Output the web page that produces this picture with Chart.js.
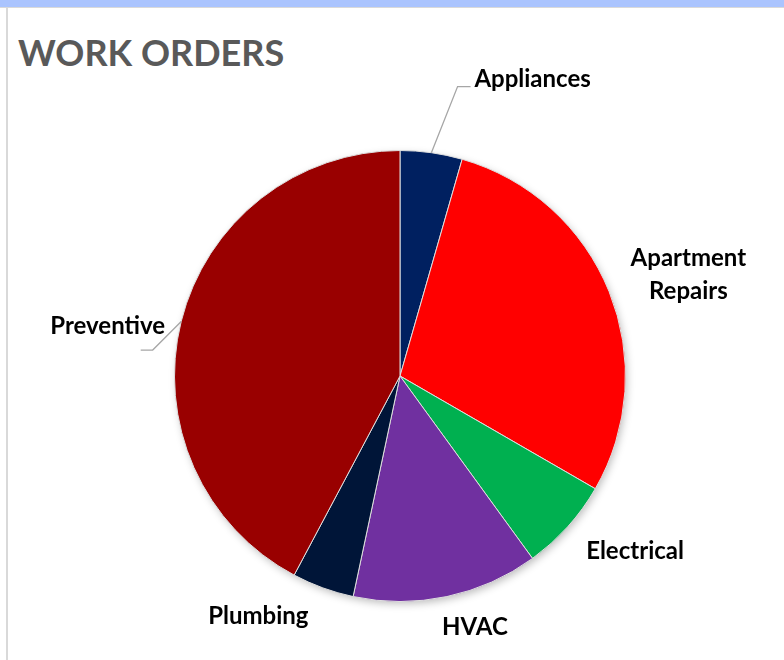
<!DOCTYPE html>
<html>
<head>
<meta charset="utf-8">
<script src="https://cdn.jsdelivr.net/npm/chart.js@4.4.0/dist/chart.umd.min.js"></script>
<style>
  html, body { margin: 0; padding: 0; background: #fff; }
  body { width: 784px; height: 660px; position: relative; overflow: hidden; }
  #band { position: absolute; left: 0; top: 0; width: 784px; height: 7px; background: #aac4fe; border-bottom: 1px solid #d9d9d9; }
  #edge { position: absolute; left: 6px; top: 8px; width: 2px; height: 652px; background: #d9d9d9; }
  #title { position: absolute; left: 18px; top: 30px; font: bold 36px Lato, sans-serif; color: #595959; }
  canvas { position: absolute; left: 0; top: 0; }
</style>
</head>
<body>
<div id="band"></div>
<div id="edge"></div>
<div id="title">WORK ORDERS</div>
<canvas id="workChart" width="784" height="660"></canvas>
<script>
const categories = ['Appliances', 'Apartment Repairs', 'Electrical', 'HVAC', 'Plumbing', 'Preventive'];
const orderCounts = [2, 13, 3, 6, 2, 19];
const sliceColors = ['#002060', '#ff0000', '#00b050', '#7030a0', '#001538', '#990000'];

// label placement: angle (deg, clockwise from top) and distance in radii, plus optional leader
const labelSpots = [
    { angle: 24.1, dist: 1.44, lines: ['Appliances'], leader: [[-75, 7], [-62, 7]] },
    { angle: 70.7, dist: 1.355, lines: ['Apartment', 'Repairs'] },
    { angle: 126.7, dist: 1.30, lines: ['Electrical'] },
    { angle: 163.4, dist: 1.163, lines: ['HVAC'] },
    { angle: 210.5, dist: 1.238, lines: ['Plumbing'] },
    { angle: 279.7, dist: 1.315, lines: ['Preventive'], leader: [[45, 24], [33, 24]] }
];

const pieShadow = {
    id: 'pieShadow',
    beforeDatasetsDraw(chart) {
        const arc = chart.getDatasetMeta(0).data[0];
        if (!arc) return;
        const ctx = chart.ctx;
        ctx.save();
        ctx.shadowColor = 'rgba(0,0,0,0.28)';
        ctx.shadowBlur = 9;
        ctx.shadowOffsetX = 2;
        ctx.shadowOffsetY = 3;
        ctx.fillStyle = '#ffffff';
        ctx.beginPath();
        ctx.arc(arc.x, arc.y, arc.outerRadius - 1, 0, Math.PI * 2);
        ctx.fill();
        ctx.restore();
    }
};

const sliceLabels = {
    id: 'sliceLabels',
    afterDatasetsDraw(chart) {
        const meta = chart.getDatasetMeta(0);
        const ctx = chart.ctx;
        const first = meta.data[0];
        const cx = first.x, cy = first.y, r = first.outerRadius;
        ctx.save();
        ctx.font = 'bold 24px Lato, sans-serif';
        ctx.fillStyle = '#000000';
        ctx.textAlign = 'center';
        ctx.textBaseline = 'middle';
        labelSpots.forEach((spot, i) => {
            const a = spot.angle * Math.PI / 180;
            const lx = cx + Math.sin(a) * r * spot.dist;
            const ly = cy - Math.cos(a) * r * spot.dist;
            const lh = 33;
            spot.lines.forEach((t, j) => {
                ctx.fillText(t, lx, ly + (j - (spot.lines.length - 1) / 2) * lh);
            });
            if (spot.leader) {
                const el = meta.data[i];
                const mid = (el.startAngle + el.endAngle) / 2;
                ctx.strokeStyle = '#a6a6a6';
                ctx.lineWidth = 1.3;
                ctx.beginPath();
                ctx.moveTo(cx + Math.cos(mid) * r, cy + Math.sin(mid) * r);
                spot.leader.forEach(p => ctx.lineTo(lx + p[0], ly + p[1]));
                ctx.stroke();
            }
        });
        ctx.restore();
    }
};

new Chart(document.getElementById('workChart'), {
    type: 'pie',
    data: {
        labels: categories,
        datasets: [{
            data: orderCounts,
            backgroundColor: sliceColors,
            borderColor: '#dedede',
            borderWidth: 1
        }]
    },
    options: {
        responsive: false,
        animation: false,
        layout: { padding: { left: 174, right: 158, top: 150, bottom: 58 } },
        plugins: {
            legend: { display: false },
            tooltip: { enabled: false }
        }
    },
    plugins: [pieShadow, sliceLabels]
});
</script>
</body>
</html>
